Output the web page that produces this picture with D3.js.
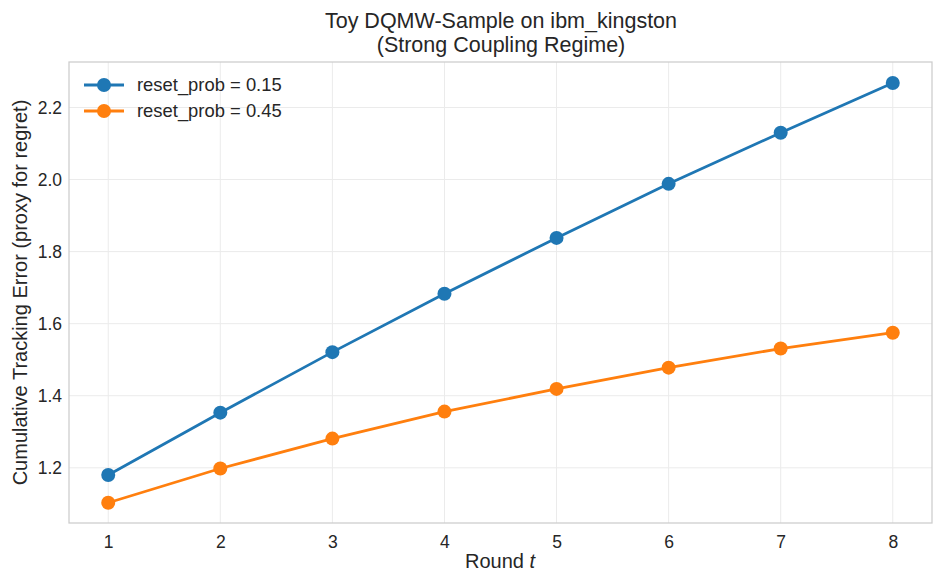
<!DOCTYPE html>
<html>
<head>
<meta charset="utf-8">
<script src="https://cdn.jsdelivr.net/npm/d3@7"></script>
<style>
  body { margin: 0; background: #fff; }
  svg text { font-family: "Liberation Sans", Arial, sans-serif; fill: #262626; }
</style>
</head>
<body>
<script>
// chart data
const rounds = [1, 2, 3, 4, 5, 6, 7, 8];
const errLowReset = [1.180, 1.353, 1.521, 1.683, 1.838, 1.988, 2.130, 2.268];
const errHighReset = [1.103, 1.198, 1.281, 1.356, 1.419, 1.478, 1.531, 1.575];
const seriesLabels = ["reset_prob = 0.15", "reset_prob = 0.45"];
const seriesColors = ["#1f77b4", "#ff7f0e"];
const yTicks = [1.2, 1.4, 1.6, 1.8, 2.0, 2.2];

const W = 944, H = 584;
const margin = { top: 62, right: 12, bottom: 61, left: 69 };
const innerW = W - margin.left - margin.right;
const innerH = H - margin.top - margin.bottom;

const svg = d3.select("body").append("svg")
    .attr("width", W).attr("height", H);

const x = d3.scaleLinear().domain([0.65, 8.35]).range([margin.left, margin.left + innerW]);
const y = d3.scaleLinear().domain([1.0468, 2.3262]).range([margin.top + innerH, margin.top]);

// grid
const grid = svg.append("g");
grid.selectAll("line.gx").data(rounds).join("line")
    .attr("x1", d => x(d)).attr("x2", d => x(d))
    .attr("y1", margin.top).attr("y2", margin.top + innerH)
    .attr("stroke", "#ebebeb").attr("stroke-width", 1);
grid.selectAll("line.gy").data(yTicks).join("line")
    .attr("x1", margin.left).attr("x2", margin.left + innerW)
    .attr("y1", d => y(d)).attr("y2", d => y(d))
    .attr("stroke", "#ebebeb").attr("stroke-width", 1);

// frame
svg.append("rect")
    .attr("x", margin.left).attr("y", margin.top)
    .attr("width", innerW).attr("height", innerH)
    .attr("fill", "none").attr("stroke", "#cccccc").attr("stroke-width", 1.25);

// axes
const xAxis = svg.append("g")
    .attr("transform", `translate(0,${margin.top + innerH})`)
    .call(d3.axisBottom(x).tickValues(rounds).tickFormat(d3.format("d")).tickSize(0).tickPadding(13));
const yAxis = svg.append("g")
    .attr("transform", `translate(${margin.left},0)`)
    .call(d3.axisLeft(y).tickValues(yTicks).tickFormat(d3.format(".1f")).tickSize(0).tickPadding(7));
[xAxis, yAxis].forEach(a => {
    a.select(".domain").remove();
    a.selectAll("text").attr("font-size", 17.5).attr("fill", "#262626")
        .style("font-family", "'Liberation Sans', Arial, sans-serif");
});

// series
const series = [errLowReset, errHighReset];
series.forEach((vals, i) => {
    const pts = rounds.map((r, j) => [r, vals[j]]);
    svg.append("path")
        .datum(pts)
        .attr("fill", "none")
        .attr("stroke", seriesColors[i])
        .attr("stroke-width", 2.8)
        .attr("d", d3.line().x(d => x(d[0])).y(d => y(d[1])));
    svg.append("g").selectAll("circle").data(pts).join("circle")
        .attr("cx", d => x(d[0])).attr("cy", d => y(d[1]))
        .attr("r", 7).attr("fill", seriesColors[i]);
});

// legend
seriesLabels.forEach((lab, i) => {
    const ly = 85 + i * 26;
    const g = svg.append("g");
    g.append("line").attr("x1", 84).attr("x2", 124).attr("y1", ly).attr("y2", ly)
        .attr("stroke", seriesColors[i]).attr("stroke-width", 2.8);
    g.append("circle").attr("cx", 104).attr("cy", ly).attr("r", 7).attr("fill", seriesColors[i]);
    g.append("text").attr("x", 137).attr("y", ly + 6)
        .attr("font-size", 18.4).text(lab);
});

// titles
svg.append("text").attr("x", 501).attr("y", 28).attr("text-anchor", "middle")
    .attr("font-size", 21.5).text("Toy DQMW-Sample on ibm_kingston");
svg.append("text").attr("x", 501).attr("y", 52).attr("text-anchor", "middle")
    .attr("font-size", 21.5).text("(Strong Coupling Regime)");

const xl = svg.append("text").attr("x", 500).attr("y", 568).attr("text-anchor", "middle")
    .attr("font-size", 20);
xl.append("tspan").text("Round ");
xl.append("tspan").attr("font-style", "italic").text("t");

svg.append("text")
    .attr("transform", `translate(27,${margin.top + innerH / 2}) rotate(-90)`)
    .attr("text-anchor", "middle").attr("font-size", 20)
    .text("Cumulative Tracking Error (proxy for regret)");
</script>
</body>
</html>
